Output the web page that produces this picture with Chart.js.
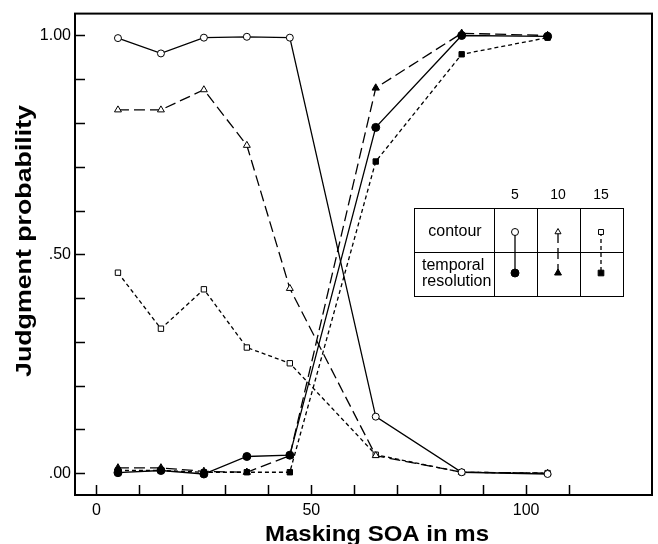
<!DOCTYPE html>
<html>
<head>
<meta charset="utf-8">
<script src="https://cdn.jsdelivr.net/npm/chart.js@4.4.1/dist/chart.umd.min.js"></script>
<style>
  html, body { margin: 0; padding: 0; background: #fff; }
</style>
</head>
<body>
<canvas id="chart" width="658" height="544"></canvas>
<script>
// masking SOA (ms) and judgment probabilities
const soa = [5, 15, 25, 35, 45, 65, 85, 105];
const contour5 = [0.994, 0.959, 0.995, 0.997, 0.995, 0.129, 0.002, -0.002];
const contour10 = [0.830, 0.830, 0.876, 0.749, 0.422, 0.040, 0.002, 0.000];
const contour15 = [0.458, 0.330, 0.420, 0.287, 0.251, 0.042, 0.002, 0.000];
const temporal5 = [0.001, 0.006, -0.002, 0.038, 0.041, 0.790, 1.000, 0.998];
const temporal10 = [0.012, 0.012, 0.004, 0.002, 0.040, 0.880, 1.005, 1.000];
const temporal15 = [0.006, 0.006, 0.002, 0.002, 0.002, 0.712, 0.957, 0.995];

const xTicks = [0, 10, 20, 30, 40, 50, 60, 70, 80, 90, 100, 110];
const xLabels = { 0: "0", 50: "50", 100: "100" };
const yTicks = [0, 0.1, 0.2, 0.3, 0.4, 0.5, 0.6, 0.7, 0.8, 0.9, 1.0];
const yLabels = { 0: ".00", 0.5: ".50", 1: "1.00" };

const FONT = "'Liberation Sans', Arial, Helvetica, sans-serif";
const LONG = [11, 5];
const SHORT = [4, 3];

function series(values, style, dash, open, radius) {
  return {
    data: soa.map((x, i) => ({ x: x, y: values[i] })),
    borderColor: "#000",
    borderWidth: 1.3,
    borderDash: dash,
    pointStyle: style,
    pointRadius: radius,
    pointBackgroundColor: open ? "#fff" : "#000",
    pointBorderColor: "#000",
    pointBorderWidth: 1,
    tension: 0,
    fill: false
  };
}

// draw a bold title stretched to a given length
function wideText(ctx, text, x, y, length, angle) {
  ctx.save();
  ctx.font = "bold 22px " + FONT;
  ctx.textAlign = "center";
  ctx.textBaseline = "middle";
  const w = ctx.measureText(text).width;
  ctx.translate(x, y);
  ctx.rotate(angle);
  ctx.scale(length / w, 1);
  ctx.fillText(text, 0, 0);
  ctx.restore();
}

// frame, inward ticks, axis titles and the legend table
const decorations = {
  id: "decorations",
  beforeDatasetsDraw(chart) {
    const ctx = chart.ctx, a = chart.chartArea;
    const xs = chart.scales.x, ys = chart.scales.y;
    ctx.save();
    ctx.strokeStyle = "#000";
    ctx.lineWidth = 2;
    ctx.strokeRect(a.left, a.top, a.right - a.left, a.bottom - a.top);
    ctx.lineWidth = 1.5;
    ctx.beginPath();
    xTicks.forEach(v => {
      const px = Math.round(xs.getPixelForValue(v)) + 0.5;
      ctx.moveTo(px, a.bottom);
      ctx.lineTo(px, a.bottom - 10);
    });
    yTicks.forEach(v => {
      const py = Math.round(ys.getPixelForValue(v)) + 0.5;
      ctx.moveTo(a.left, py);
      ctx.lineTo(a.left + 10, py);
    });
    ctx.stroke();
    ctx.fillStyle = "#000";
    wideText(ctx, "Masking SOA in ms", 377, 535, 224, 0);
    wideText(ctx, "Judgment probability", 25, 241, 272, -Math.PI / 2);
    ctx.restore();
  },
  afterDraw(chart) {
    const ctx = chart.ctx;
    const L = 414, R = 623, T = 208, M = 252, B = 296;
    const cols = [494, 537, 580];
    ctx.save();
    ctx.fillStyle = "#fff";
    ctx.fillRect(L, T, R - L, B - T);
    ctx.strokeStyle = "#000";
    ctx.lineWidth = 1;
    ctx.strokeRect(L + 0.5, T + 0.5, R - L, B - T);
    ctx.beginPath();
    ctx.moveTo(L, M + 0.5); ctx.lineTo(R, M + 0.5);
    cols.forEach(c => { ctx.moveTo(c + 0.5, T); ctx.lineTo(c + 0.5, B); });
    ctx.stroke();

    ctx.fillStyle = "#000";
    ctx.font = "14px " + FONT;
    ctx.textAlign = "center";
    ctx.textBaseline = "middle";
    const heads = ["5", "10", "15"];
    const cx = [515, 558, 601];
    heads.forEach((h, i) => ctx.fillText(h, cx[i], 195));
    ctx.font = "16px " + FONT;
    ctx.fillText("contour", 455, 232);
    ctx.textAlign = "left";
    ctx.fillText("temporal", 422, 266);
    ctx.fillText("resolution", 422, 282);

    const styles = ["circle", "triangle", "rect"];
    const dashes = [[], LONG, SHORT];
    styles.forEach((s, i) => {
      ctx.setLineDash(dashes[i]);
      ctx.lineWidth = 1.3;
      ctx.beginPath();
      ctx.moveTo(cx[i], 232);
      ctx.lineTo(cx[i], 273);
      ctx.stroke();
      ctx.setLineDash([]);
      ctx.lineWidth = 1;
      ctx.fillStyle = "#fff";
      Chart.helpers.drawPoint(ctx, { pointStyle: s, radius: 3.5, rotation: 0, borderWidth: 1 }, cx[i], 232);
      ctx.fillStyle = "#000";
      Chart.helpers.drawPoint(ctx, { pointStyle: s, radius: 4, rotation: 0, borderWidth: 1 }, cx[i], 273);
    });
    ctx.restore();
  }
};

new Chart(document.getElementById("chart").getContext("2d"), {
  type: "line",
  data: {
    datasets: [
      series(contour5, "circle", [], true, 3.5),
      series(contour10, "triangle", LONG, true, 4),
      series(contour15, "rect", SHORT, true, 3.8),
      series(temporal5, "circle", [], false, 4),
      series(temporal10, "triangle", LONG, false, 4.2),
      series(temporal15, "rect", SHORT, false, 3.8)
    ]
  },
  options: {
    responsive: false,
    animation: false,
    devicePixelRatio: 1,
    layout: { padding: { left: 10, right: 6, top: 10, bottom: 0 } },
    plugins: { legend: { display: false }, tooltip: { enabled: false } },
    scales: {
      x: {
        type: "linear",
        min: -5,
        max: 129.3,
        afterBuildTicks: s => { s.ticks = xTicks.map(v => ({ value: v })); },
        afterFit: s => { s.height = 49; },
        grid: { display: false, drawTicks: false },
        border: { display: false },
        ticks: {
          autoSkip: false,
          maxRotation: 0,
          padding: 6,
          color: "#000",
          font: { family: FONT, size: 16 },
          callback: v => xLabels[v] || ""
        }
      },
      y: {
        type: "linear",
        min: -0.05,
        max: 1.05,
        afterBuildTicks: s => { s.ticks = yTicks.map(v => ({ value: v })); },
        afterFit: s => { s.width = 65; },
        grid: { display: false, drawTicks: false },
        border: { display: false },
        ticks: {
          autoSkip: false,
          padding: 4,
          color: "#000",
          font: { family: FONT, size: 16 },
          callback: v => yLabels[Math.round(v * 10) / 10] || ""
        }
      }
    }
  },
  plugins: [decorations]
});
</script>
</body>
</html>
